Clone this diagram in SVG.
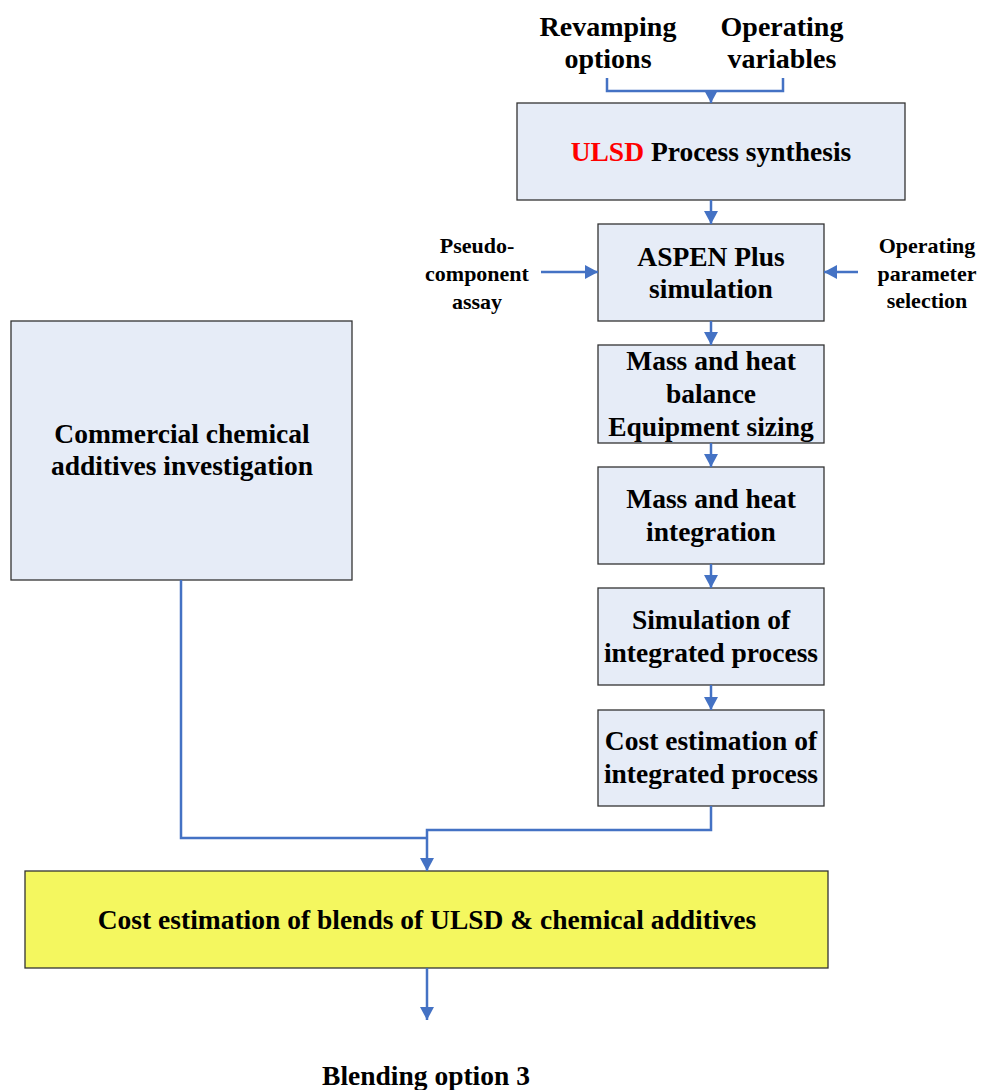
<svg xmlns="http://www.w3.org/2000/svg" width="984" height="1090" viewBox="0 0 984 1090">
  <style>
    .box { fill: #e6ecf7; stroke: #333333; stroke-width: 1.3; }
    .hl { fill: #f4f75f; stroke: #333333; stroke-width: 1.3; }
    .t { font-family: "Liberation Serif", "Times New Roman", serif; font-weight: bold; fill: #000; text-anchor: middle; }
    .lg { font-size: 27.5px; }
    .sm { font-size: 22px; }
    .top { font-size: 28px; }
    .red { fill: #ff0000; }
    .wire { fill: none; stroke: #4472c4; stroke-width: 2.5; }
  </style>
  <defs>
    <marker id="ah" markerUnits="userSpaceOnUse" markerWidth="16" markerHeight="16" refX="13" refY="7" orient="auto">
      <path d="M0,0 L13,7 L0,14 Z" fill="#4472c4"/>
    </marker>
  </defs>

  <!-- inputs at the top -->
  <g id="revamping">
    <text class="t top" x="608" y="36">Revamping</text>
    <text class="t top" x="608" y="68">options</text>
  </g>
  <g id="operating-variables">
    <text class="t top" x="782" y="36">Operating</text>
    <text class="t top" x="782" y="68">variables</text>
  </g>

  <g id="ulsd">
    <rect class="box" x="517" y="103" width="388" height="97"/>
    <text class="t lg" x="711" y="161"><tspan class="red">ULSD</tspan> Process synthesis</text>
  </g>

  <g id="pseudo">
    <text class="t sm" x="477" y="253">Pseudo-</text>
    <text class="t sm" x="477" y="281">component</text>
    <text class="t sm" x="477" y="309">assay</text>
  </g>
  <g id="op-param">
    <text class="t sm" x="927" y="253">Operating</text>
    <text class="t sm" x="927" y="281">parameter</text>
    <text class="t sm" x="927" y="308">selection</text>
  </g>

  <g id="aspen">
    <rect class="box" x="598" y="224" width="226" height="97"/>
    <text class="t lg" x="711" y="266">ASPEN Plus</text>
    <text class="t lg" x="711" y="298">simulation</text>
  </g>

  <g id="balance">
    <rect class="box" x="598" y="345" width="226" height="98"/>
    <text class="t lg" x="711" y="370">Mass and heat</text>
    <text class="t lg" x="711" y="403">balance</text>
    <text class="t lg" x="711" y="436">Equipment sizing</text>
  </g>

  <g id="integration">
    <rect class="box" x="598" y="467" width="226" height="97"/>
    <text class="t lg" x="711" y="508">Mass and heat</text>
    <text class="t lg" x="711" y="541">integration</text>
  </g>

  <g id="sim-integrated">
    <rect class="box" x="598" y="588" width="226" height="97"/>
    <text class="t lg" x="711" y="629">Simulation of</text>
    <text class="t lg" x="711" y="662">integrated process</text>
  </g>

  <g id="cost-integrated">
    <rect class="box" x="598" y="710" width="226" height="96"/>
    <text class="t lg" x="711" y="750">Cost estimation of</text>
    <text class="t lg" x="711" y="783">integrated process</text>
  </g>

  <g id="additives">
    <rect class="box" x="11" y="321" width="341" height="259"/>
    <text class="t lg" x="182" y="443">Commercial chemical</text>
    <text class="t lg" x="182" y="475">additives investigation</text>
  </g>

  <g id="blends">
    <rect class="hl" x="25" y="871" width="803" height="97"/>
    <text class="t lg" x="427" y="929">Cost estimation of blends of ULSD &amp; chemical additives</text>
  </g>

  <g id="option">
    <text class="t lg" x="426" y="1085">Blending option 3</text>
  </g>

  <g id="connectors">
    <path class="wire" d="M607,78 V91 H783 V78"/>
    <path class="wire" d="M711,91 V103" marker-end="url(#ah)"/>
    <path class="wire" d="M711,200 V224" marker-end="url(#ah)"/>
    <path class="wire" d="M541,272 H598" marker-end="url(#ah)"/>
    <path class="wire" d="M858,272 H824" marker-end="url(#ah)"/>
    <path class="wire" d="M711,321 V345" marker-end="url(#ah)"/>
    <path class="wire" d="M711,443 V467" marker-end="url(#ah)"/>
    <path class="wire" d="M711,564 V588" marker-end="url(#ah)"/>
    <path class="wire" d="M711,685 V710" marker-end="url(#ah)"/>
    <path class="wire" d="M711,806 V830 H427 V871" marker-end="url(#ah)"/>
    <path class="wire" d="M181,580 V838 H427"/>
    <path class="wire" d="M427,968 V1020" marker-end="url(#ah)"/>
  </g>
</svg>
